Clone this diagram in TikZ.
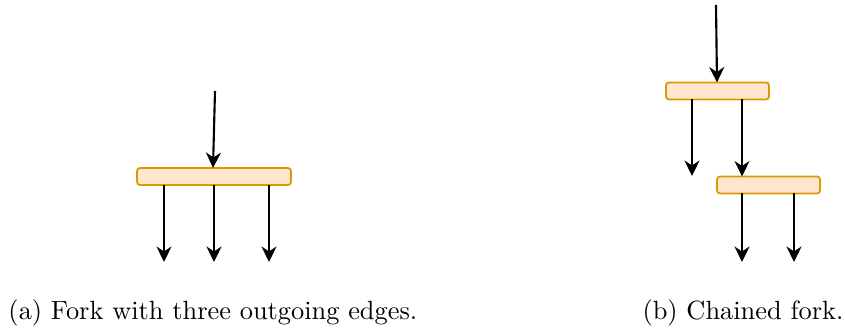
\documentclass[tikz,border=0pt]{standalone}
\usetikzlibrary{arrows.meta}
\definecolor{forkfill}{HTML}{FFE6CC}
\definecolor{forkdraw}{HTML}{D79B00}
\begin{document}
\begin{tikzpicture}[x=0.4pt,y=-0.4pt,
  forkbar/.style={draw=forkdraw,fill=forkfill,line width=0.7pt,rounded corners=1.2pt,
    inner sep=0pt,outer sep=0pt,minimum height=17*0.4pt},
  flow/.style={line width=0.85pt,-{Stealth[length=6.2pt,width=6pt,inset=2pt]}},
  caption/.style={anchor=base west,inner sep=0pt,font=\fontsize{10.55}{12.6}\selectfont}]
\useasboundingbox (0,0) rectangle (845,331);

% (a) single fork with three outgoing edges
\node[forkbar,minimum width=154*0.4pt] (fa) at (214,176.5) {};
\coordinate (ina) at (215,91);
\coordinate (oa1) at (164,262);
\coordinate (oa2) at (214,262);
\coordinate (oa3) at (269,262);
\draw[flow] (ina) -- (fa.north -| 213,0);
\draw[flow] (fa.south -| oa1) -- (oa1);
\draw[flow] (fa.south -| oa2) -- (oa2);
\draw[flow] (fa.south -| oa3) -- (oa3);

% (b) two forks chained
\node[forkbar,minimum width=103*0.4pt] (fb1) at (717.5,91) {};
\node[forkbar,minimum width=103*0.4pt] (fb2) at (768.5,185) {};
\coordinate (inb) at (716,5);
\coordinate (ob1) at (692,176);
\coordinate (ob2) at (742,262);
\coordinate (ob3) at (794,262);
\draw[flow] (inb) -- (fb1.north -| 717,0);
\draw[flow] (fb1.south -| ob1) -- (ob1);
\draw[flow] (fb1.south -| 742,0) -- (fb2.north -| 742,0);
\draw[flow] (fb2.south -| ob2) -- (ob2);
\draw[flow] (fb2.south -| ob3) -- (ob3);

% captions
\node[caption] (capa) at (8,320) {(a) Fork with three outgoing edges.};
\node[caption] (capb) at (642,320) {(b) Chained fork.};
\end{tikzpicture}
\end{document}
